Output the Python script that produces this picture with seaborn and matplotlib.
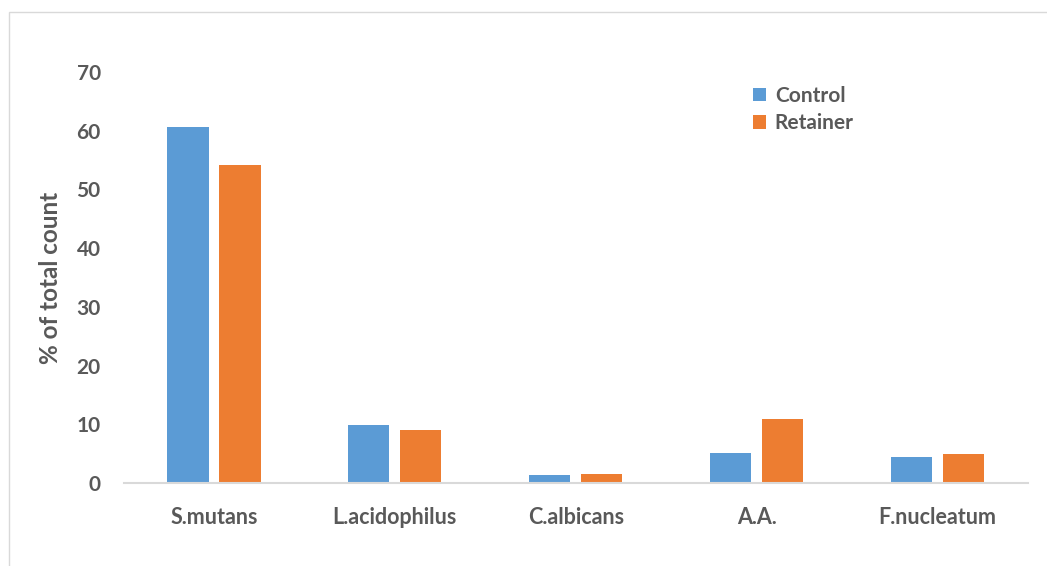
import matplotlib
matplotlib.use('Agg')
import matplotlib.pyplot as plt
import seaborn as sns
import pandas as pd
from matplotlib.patches import Rectangle

# values
species = ['S.mutans', 'L.acidophilus', 'C.albicans', 'A.A.', 'F.nucleatum']
control = [60.6, 9.9, 1.3, 5.1, 4.4]
retainer = [54.2, 9.1, 1.6, 10.9, 5.0]
groups = ['Control', 'Retainer']
colors = ['#5B9BD5', '#ED7D31']

df = pd.DataFrame({
    'Species': species * 2,
    'Group': [groups[0]] * len(species) + [groups[1]] * len(species),
    'Value': control + retainer,
})

sns.set_theme(style='white')
plt.rcParams['font.family'] = ['Lato', 'DejaVu Sans']
text_col = '#595959'

fig = plt.figure(figsize=(10.47, 5.66), dpi=100)
ax = fig.add_axes([0.118, 0.1466, 0.864, 0.7262])

sns.barplot(data=df, x='Species', y='Value', hue='Group', palette=colors,
            width=0.575, gap=0.21, saturation=1, linewidth=0, ax=ax, legend=True)

ax.set_ylim(0, 70)
ax.set_yticks(range(0, 71, 10))
ax.set_xlim(-0.5, len(species) - 0.5)
sns.despine(ax=ax, left=True, top=True, right=True)
ax.spines['bottom'].set_color('#D9D9D9')
ax.spines['bottom'].set_linewidth(1.5)
ax.tick_params(axis='y', length=0, pad=16.5, labelsize=15, labelcolor=text_col)
ax.tick_params(axis='x', length=0, pad=17, labelsize=15.5, labelcolor=text_col)
for lbl in ax.get_xticklabels() + ax.get_yticklabels():
    lbl.set_fontweight('bold')
ax.set_xlabel('')
ax.set_ylabel('% of total count', fontsize=17.5, fontweight='bold', color=text_col, labelpad=10)

ax.legend(frameon=False, loc='upper left', bbox_to_anchor=(0.675, 1.012),
          handlelength=0.65, handleheight=0.65, handletextpad=0.4,
          labelspacing=0.35, prop={'weight': 'bold', 'size': 15},
          labelcolor=text_col)

# light chart frame
fig.patches.append(Rectangle((9 / 1047, -0.02), 1.2, 1 - 12 / 566 + 0.02,
                             transform=fig.transFigure, fill=False,
                             edgecolor='#D9D9D9', linewidth=1))

fig.savefig('out.png', dpi=100)
